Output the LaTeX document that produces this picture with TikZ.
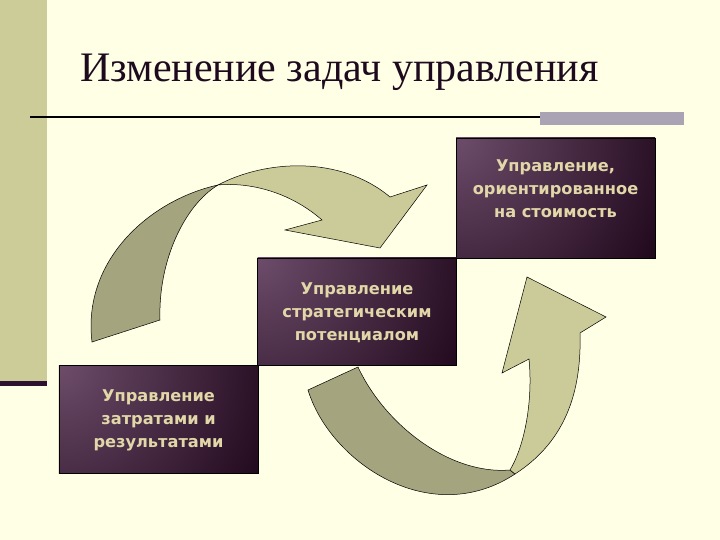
\documentclass[tikz,border=0pt]{standalone}
\usepackage{fontspec}
\setmainfont{Liberation Serif}
\newfontfamily\boxfont{DejaVu Sans}
\definecolor{slidebg}{HTML}{FFFFE6}
\definecolor{barolive}{HTML}{CCCC99}
\definecolor{barline}{HTML}{2E1030}
\definecolor{rulegray}{HTML}{A9A3B3}
\definecolor{arrowlight}{HTML}{CBCB99}
\definecolor{arrowdark}{HTML}{A4A47E}
\definecolor{boxdark}{HTML}{1E0619}
\definecolor{boxlight}{HTML}{6C4C6A}
\definecolor{boxtext}{HTML}{E2D7A8}
\definecolor{titleink}{HTML}{1E0A1E}
\pgfdeclareradialshading{boxglow}{\pgfpoint{0bp}{0bp}}{color(0bp)=(boxlight); color(23bp)=(boxdark); color(50bp)=(boxdark)}

\begin{document}
\begin{tikzpicture}[x=1bp,y=-1bp,
  taskbox/.style={draw=black, line width=0.6bp, fill=boxdark, minimum width=199bp, inner sep=0pt,
    path picture={\shade[shading=boxglow] (path picture bounding box.north west) circle (260bp);}},
  boxlabel/.style={align=center, text=boxtext, inner sep=0pt,
    font=\boxfont\bfseries\fontsize{16.2bp}{23bp}\selectfont},
  ribbon/.style={draw=black, line width=0.5bp, line join=miter}]

	\useasboundingbox (0,0) rectangle (720,540);
	\fill[slidebg] (0,0) rectangle (720,540);

	\fill[barolive] (0,0) rectangle (47,381);
	\fill[barline] (0,381) rectangle (47,386);

	\node[anchor=base west, inner sep=0pt, text=titleink, font=\fontsize{42bp}{50bp}\selectfont] (title) at (80,82) {Изменение задач управления};

	\draw[line width=2bp] (30,117) -- (545,117);
	\fill[rulegray] (540,112) rectangle (684,125);

	\draw[ribbon, fill=arrowdark] (92,342) .. controls (82,260) and (150,200) .. (218,185) .. controls (185,205) and (158,260) .. (160,320) -- cycle;
	\draw[ribbon, fill=arrowlight] (218,185) .. controls (265,160) and (340,155) .. (390,197) -- (427,185) -- (380,248) -- (285,230) -- (322,220) .. controls (290,192) and (250,182) .. (218,185) -- cycle;

	\draw[ribbon, fill=arrowdark] (308,390) .. controls (330,462) and (430,530) .. (515,474) -- (510,470) .. controls (450,475) and (385,425) .. (358,367) -- cycle;
	\draw[ribbon, fill=arrowlight] (515,474) .. controls (560,445) and (582,400) .. (580,333) -- (606,317) -- (527,277) -- (502,373) -- (529,359) .. controls (533,400) and (525,445) .. (510,470) -- cycle;

	\node[taskbox, minimum height=120bp] (cost) at (555.5,198) {};
	\node[taskbox, minimum height=107bp] (potential) at (357,311.5) {};
	\node[taskbox, minimum height=108bp] (results) at (158.5,419.5) {};

	\node[boxlabel] at ([yshift=9bp]cost.center) {Управление,\\ориентированное\\на стоимость};
	\node[boxlabel] at ([yshift=-1bp]potential.center) {Управление\\стратегическим\\потенциалом};
	\node[boxlabel] at ([yshift=-1bp]results.center) {Управление\\затратами и\\результатами};

\end{tikzpicture}
\end{document}
